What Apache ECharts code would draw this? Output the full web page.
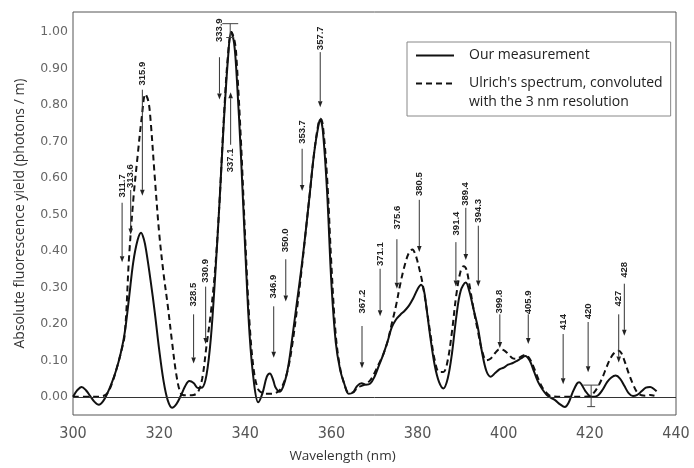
<!DOCTYPE html>
<html>
<head>
<meta charset="utf-8">
<script src="https://cdn.jsdelivr.net/npm/echarts@6/dist/echarts.min.js"></script>
<style>html,body{margin:0;padding:0;background:#fff;}#c{width:694px;height:468px;}</style>
</head>
<body>
<div id="c"></div>
<script>
// ---- Data ----
var measData = [
[300,0.0],[301,0.018],[302,0.027],[303,0.018],[304,0.002],[305,-0.014],[306,-0.022],[307,-0.012],[308,0.01],[309,0.038],
[310,0.072],[311,0.115],[312,0.175],[313,0.27],[314,0.37],[315,0.43],[315.8,0.45],[316.5,0.43],[317,0.4],[318,0.32],
[319,0.23],[320,0.13],[321,0.045],[322,-0.01],[323,-0.03],[324,-0.02],[325,0.002],[326,0.028],[327,0.043],[328,0.038],
[329,0.024],[330,0.025],[331,0.06],[332,0.16],[333,0.33],[334,0.53],[335,0.75],[336,0.93],[336.7,1.0],[337.4,0.97],
[338,0.88],[339,0.66],[340,0.4],[341,0.17],[342,0.04],[343,-0.015],[344,0.01],[345,0.055],[345.7,0.064],[346.5,0.045],
[347,0.026],[348,0.014],[349,0.035],[350,0.085],[351,0.17],[352,0.26],[353,0.35],[354,0.45],[355,0.56],[356,0.67],
[357,0.745],[357.4,0.76],[358,0.73],[359,0.56],[360,0.31],[361,0.15],[362,0.075],[363,0.035],[364,0.008],[365,0.012],
[366,0.03],[367,0.037],[368,0.033],[369,0.036],[370,0.055],[371,0.085],[372,0.115],[373,0.15],[374,0.19],[375,0.212],
[376,0.225],[377,0.236],[378,0.25],[379,0.27],[380,0.295],[380.8,0.307],[381.5,0.29],[382,0.25],[383,0.16],[384,0.085],
[385,0.04],[386,0.023],[387,0.05],[388,0.12],[389,0.22],[390,0.29],[391.2,0.313],[392,0.29],[393,0.24],[394,0.19],
[395,0.12],[396,0.07],[397,0.055],[398,0.065],[399,0.075],[400,0.08],[401,0.088],[402,0.092],[403,0.098],[404,0.105],
[405,0.112],[406,0.1],[407,0.07],[408,0.04],[409,0.02],[410,0.005],[411,-0.003],[412,-0.01],[413,-0.02],[414.2,-0.028],
[415,-0.018],[416,0.012],[417,0.036],[417.5,0.04],[418,0.035],[419,0.015],[420,0.002],[421,0.0],[422,0.005],[423,0.02],
[424,0.04],[425,0.053],[426,0.058],[427,0.05],[428,0.03],[429,0.01],[430,0.002],[431,0.005],[432,0.015],[433,0.025],
[434,0.027],[435,0.02],[435.5,0.015]
];
var ulrichData = [
[300,0.0],[305,0.0],[307,0.002],[308,0.01],[309,0.035],[310,0.072],[311,0.115],[312,0.17],[313,0.38],[314,0.54],
[315,0.66],[316,0.77],[316.8,0.83],[317.5,0.81],[318,0.76],[319,0.6],[320,0.45],[321,0.34],[322,0.25],[323,0.15],
[324,0.06],[325,0.01],[326,0.004],[327,0.004],[328,0.005],[329,0.012],[330,0.05],[331,0.14],[332,0.23],[333,0.35],
[334,0.53],[335,0.76],[336,0.94],[336.8,1.0],[337.6,0.97],[338,0.92],[339,0.7],[340,0.43],[341,0.2],[342,0.07],
[343,0.02],[344,0.01],[345,0.008],[346,0.008],[347,0.01],[348,0.018],[349,0.04],[350,0.08],[351,0.15],[352,0.24],
[353,0.34],[354,0.45],[355,0.56],[356,0.67],[357,0.75],[357.5,0.762],[358,0.745],[359,0.6],[360,0.36],[361,0.17],
[362,0.08],[363,0.035],[364,0.012],[365,0.012],[366,0.025],[367,0.03],[368,0.035],[369,0.045],[370,0.065],[371,0.09],
[372,0.115],[373,0.15],[374,0.2],[375,0.25],[376,0.31],[377,0.36],[378,0.395],[378.8,0.404],[379.5,0.39],[380,0.37],
[381,0.32],[382,0.25],[383,0.17],[384,0.1],[385,0.068],[386,0.068],[387,0.1],[388,0.18],[389,0.28],[390,0.345],
[390.7,0.358],[391.3,0.35],[392,0.31],[393,0.24],[394,0.18],[395,0.125],[396,0.1],[397,0.105],[398,0.12],[399,0.13],
[400,0.128],[401,0.118],[402,0.106],[403,0.104],[404,0.11],[405,0.115],[406,0.105],[407,0.08],[408,0.05],[409,0.025],
[410,0.01],[411,0.002],[414,0.0],[418,0.0],[420,0.002],[421,0.012],[422,0.03],[423,0.055],[424,0.085],[425,0.11],
[426,0.124],[426.7,0.126],[427.3,0.12],[428,0.1],[429,0.065],[430,0.035],[431,0.012],[432,0.004],[433,0.003],[434,0.005],
[435,0.003]
];
// annotations: arrow position (nm), label text, label centre, arrow start, arrow tip (yield units)
var annWl    = [311.4,313.4,316.1,328.0,330.8,334.0,336.6,346.6,349.4,353.2,357.4,367.1,371.3,375.2,380.4,388.9,391.2,394.1,399.1,405.7,413.8,419.6,426.7,428.0];
var annText  = ["311.7","313.6","315.9","328.5","330.9","333.9","337.1","346.9","350.0","353.7","357.7","367.2","371.1","375.6","380.5","391.4","389.4","394.3","399.8","405.9","414","420","427","428"];
var annLabel = [0.578,0.605,0.886,0.280,0.345,1.005,0.648,0.302,0.429,0.726,0.983,0.261,0.391,0.491,0.583,0.475,0.556,0.510,0.261,0.259,0.205,0.234,0.269,0.348];
var annFrom  = [0.532,0.567,0.842,0.226,0.302,0.931,0.691,0.248,0.377,0.680,0.945,0.194,0.351,0.432,0.540,0.424,0.518,0.469,0.226,0.226,0.172,0.205,0.226,0.310];
var annTo    = [0.369,0.445,0.551,0.091,0.145,0.815,0.835,0.107,0.261,0.564,0.794,0.078,0.221,0.296,0.397,0.302,0.375,0.302,0.134,0.145,0.034,0.067,0.094,0.167];
// error bars
var errWl   = [336.5, 420.3];
var errLow  = [0.985, -0.027];
var errHigh = [1.023, 0.032];
var yTickValues = [0,0.1,0.2,0.3,0.4,0.5,0.6,0.7,0.8,0.9,1.0];

var measName = 'Our measurement';
var ulrichName = "Ulrich's spectrum, convoluted\nwith the 3 nm resolution";
var annData = annWl.map(function(w,i){ return [w, annLabel[i], annFrom[i], annTo[i]]; });
var errData = errWl.map(function(w,i){ return [w, errLow[i], errHigh[i]]; });

var chart = echarts.init(document.getElementById('c'), null, {renderer:'canvas'});
var option = {
  animation: false,
  backgroundColor: '#fff',
  grid: {left: 73, right: 18, top: 12, bottom: 48, show: true, borderColor: '#555', borderWidth: 1},
  legend: {
    left: 407, top: 42, orient: 'vertical',
    itemWidth: 38, itemHeight: 14, itemGap: -10,
    borderColor: '#888', borderWidth: 1, padding: [4, 8, 4, 8],
    itemStyle: {opacity: 0},
    textStyle: {fontFamily: 'Open Sans', fontSize: 14, color: '#222', lineHeight: 19, padding: [0, 0, 0, 10]},
    formatter: function(name){ return name === ulrichName ? '\n' + name : name; },
    data: [{name: measName}, {name: ulrichName}]
  },
  xAxis: {
    type: 'value', min: 300, max: 440, interval: 20,
    name: 'Wavelength (nm)', nameLocation: 'middle', nameGap: 34,
    nameTextStyle: {fontFamily: 'Open Sans', fontSize: 13.5, color: '#333', padding: [0, 64, 0, 0]},
    axisLine: {show: false}, axisTick: {show: false}, splitLine: {show: false},
    axisLabel: {margin: 11, fontFamily: 'DejaVu Sans Condensed', fontSize: 16, color: '#555'}
  },
  yAxis: {
    type: 'value', min: -0.05, max: 1.055, interval: 0.05,
    name: 'Absolute fluorescence yield (photons / m)', nameLocation: 'middle', nameGap: 46,
    nameTextStyle: {fontFamily: 'Open Sans', fontSize: 14, color: '#333'},
    axisLine: {show: false}, axisTick: {show: false}, splitLine: {show: false},
    axisLabel: {
      margin: 5, fontFamily: 'DejaVu Sans', fontSize: 12.5, color: '#666',
      formatter: function(v){
        for (var k = 0; k < yTickValues.length; k++) {
          if (Math.abs(v - yTickValues[k]) < 1e-6) return yTickValues[k].toFixed(2);
        }
        return '';
      }
    }
  },
  series: [
    {
      name: measName, type: 'line', data: measData, symbol: 'none',
      smooth: 0.35,
      lineStyle: {color: '#111', width: 2},
      itemStyle: {color: '#111'},
      markLine: {silent: true, symbol: 'none', label: {show: false},
        lineStyle: {color: '#333', width: 1, type: 'solid'}, data: [{yAxis: 0}]},
      z: 3
    },
    {
      name: ulrichName, type: 'line', data: ulrichData, symbol: 'none',
      smooth: 0.35,
      lineStyle: {color: '#111', width: 2, type: [6, 4]},
      itemStyle: {color: '#111'},
      z: 2
    },
    {
      type: 'custom', data: annData, encode: {x: 0, y: [1, 2, 3]}, silent: true, z: 5,
      renderItem: function(params, api){
        var i = params.dataIndex;
        var lab = api.coord([api.value(0), api.value(1)]);
        var a = api.coord([api.value(0), api.value(2)]);
        var b = api.coord([api.value(0), api.value(3)]);
        var dir = b[1] > a[1] ? 1 : -1;
        var base = b[1] - dir * 6;
        return {type: 'group', children: [
          {type: 'line', shape: {x1: a[0], y1: a[1], x2: b[0], y2: base}, style: {stroke: '#333', lineWidth: 1}},
          {type: 'polygon', shape: {points: [[b[0]-2.3, base], [b[0]+2.3, base], [b[0], b[1]]]}, style: {fill: '#222'}},
          {type: 'text', x: lab[0], y: lab[1], rotation: Math.PI/2,
            style: {text: annText[i], fill: '#222', fontFamily: 'Liberation Sans Narrow, Liberation Sans', fontWeight: 'bold', fontSize: 9.5, align: 'center', verticalAlign: 'middle'}}
        ]};
      }
    },
    {
      type: 'custom', data: errData, encode: {x: 0, y: [1, 2]}, silent: true, z: 4,
      renderItem: function(params, api){
        var lo = api.coord([api.value(0), api.value(1)]);
        var hi = api.coord([api.value(0), api.value(2)]);
        var w = 8;
        return {type: 'group', children: [
          {type: 'line', shape: {x1: lo[0], y1: lo[1], x2: hi[0], y2: hi[1]}, style: {stroke: '#444', lineWidth: 1}},
          {type: 'line', shape: {x1: hi[0]-w, y1: hi[1], x2: hi[0]+w, y2: hi[1]}, style: {stroke: '#444', lineWidth: 1}},
          {type: 'line', shape: {x1: lo[0]-4, y1: lo[1], x2: lo[0]+4, y2: lo[1]}, style: {stroke: '#444', lineWidth: 1}}
        ]};
      }
    }
  ]
};
chart.setOption(option);
</script>
</body>
</html>
